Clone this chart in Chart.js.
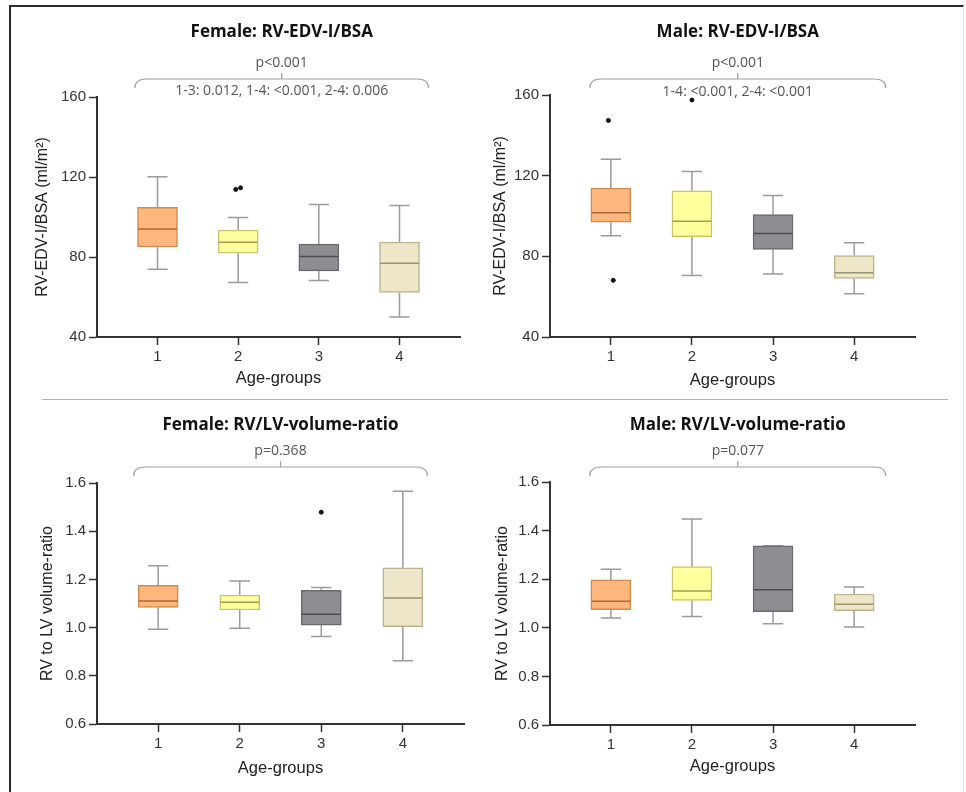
<!DOCTYPE html>
<html>
<head>
<meta charset="utf-8">
<script src="https://cdn.jsdelivr.net/npm/chart.js@4.4.0/dist/chart.umd.min.js"></script>
<style>
  body { margin: 0; background: #fff; width: 966px; height: 792px; position: relative; overflow: hidden; }
  .frame { position: absolute; left: 9px; top: 5px; width: 952px; height: 820px;
           border-top: 2px solid #2b2b2b; border-left: 2px solid #2b2b2b; border-right: 1px solid #e4e4e4; }
  .sep { position: absolute; left: 42px; top: 399px; width: 906px; border-top: 1px solid #b4b4b4; }
  .panel { position: absolute; width: 483px; height: 396px; }
</style>
</head>
<body>
<div class="frame"></div>
<div class="panel" style="left:0;top:0"><canvas id="c1" width="483" height="396"></canvas></div>
<div class="panel" style="left:483px;top:0"><canvas id="c2" width="483" height="396"></canvas></div>
<div class="panel" style="left:0;top:396px"><canvas id="c3" width="483" height="396"></canvas></div>
<div class="panel" style="left:483px;top:396px"><canvas id="c4" width="483" height="396"></canvas></div>
<div class="sep"></div>

<script>
// Categories (age groups)
const groups = [1, 2, 3, 4];
const groupLabels = ["1", "2", "3", "4"];

// Y tick labels
const edvTicks = [40, 80, 120, 160];
const edvTickLabels = ["40", "80", "120", "160"];
const ratioTicks = [0.6, 0.8, 1.0, 1.2, 1.4, 1.6];
const ratioTickLabels = ["0.6", "0.8", "1.0", "1.2", "1.4", "1.6"];

// Female: RV-EDV-I/BSA
const femEdvMin = [73.9, 67.3, 68.3, 50.0];
const femEdvQ1 = [85.0, 81.9, 73.1, 62.3];
const femEdvMed = [94.0, 87.4, 80.2, 76.9];
const femEdvQ3 = [104.8, 93.5, 86.4, 87.4];
const femEdvMax = [120.1, 99.8, 106.3, 105.8];
const femEdvOutGroup = [2, 2];
const femEdvOutValue = [113.8, 114.6];

// Male: RV-EDV-I/BSA
const maleEdvMin = [90.2, 70.5, 71.3, 61.5];
const maleEdvQ1 = [96.9, 89.8, 83.4, 69.1];
const maleEdvMed = [101.6, 97.4, 91.3, 71.9];
const maleEdvQ3 = [113.8, 112.5, 100.7, 80.4];
const maleEdvMax = [128.2, 122.1, 110.2, 86.7];
const maleEdvOutGroup = [1, 1, 2];
const maleEdvOutValue = [147.4, 68.1, 157.5];

// Female: RV/LV-volume-ratio
const femRatioMin = [0.993, 0.997, 0.963, 0.862];
const femRatioQ1 = [1.084, 1.073, 1.010, 1.004];
const femRatioMed = [1.110, 1.105, 1.055, 1.123];
const femRatioQ3 = [1.175, 1.135, 1.155, 1.248];
const femRatioMax = [1.257, 1.193, 1.166, 1.566];
const femRatioOutGroup = [3];
const femRatioOutValue = [1.479];

// Male: RV/LV-volume-ratio
const maleRatioMin = [1.040, 1.046, 1.017, 1.003];
const maleRatioQ1 = [1.075, 1.113, 1.066, 1.071];
const maleRatioMed = [1.109, 1.151, 1.157, 1.097];
const maleRatioQ3 = [1.197, 1.252, 1.337, 1.139];
const maleRatioMax = [1.241, 1.448, 1.338, 1.168];
const maleRatioOutGroup = [];
const maleRatioOutValue = [];

// Styling
const boxFills = ["#fdb67b", "#ffff9e", "#8e8e92", "#eee6c8"];
const boxBorders = ["#cf8a50", "#c9c46c", "#6a6a6e", "#bdb38e"];
const medianColors = ["#a86a3a", "#a39d4c", "#4c4c50", "#9c9272"];
const whiskerColor = "#9b9b9b";

Chart.defaults.font.family = '"Liberation Sans", Arial, sans-serif';
Chart.defaults.color = "#333";
Chart.defaults.animation = false;

const W = 483, H = 396, XH = 55;
const capHalf = 0.125, medHalf = 0.24;

// Title, p-value and bracket above each plot
const notesPlugin = {
  id: "notes",
  afterDraw(chart, args, opts) {
    const ctx = chart.ctx;
    const xs = chart.scales.x;
    const x0 = xs.getPixelForValue(opts.from);
    const x1 = xs.getPixelForValue(opts.to);
    const xm = (x0 + x1) / 2;
    ctx.save();
    ctx.textAlign = "center";
    ctx.textBaseline = "middle";
    ctx.fillStyle = "#111";
    ctx.font = 'bold 17px "Open Sans", sans-serif';
    ctx.fillText(opts.title, xm, opts.titleY);
    ctx.fillStyle = "#555";
    ctx.font = '14px "Open Sans", sans-serif';
    ctx.fillText(opts.p, xm, opts.pY);
    if (opts.pairs) ctx.fillText(opts.pairs, xm, opts.pairsY);

    const by = opts.bracketY, d = 9, r = 12;
    ctx.strokeStyle = "#a0a0a0";
    ctx.lineWidth = 1.2;
    ctx.beginPath();
    ctx.moveTo(x0, by + d);
    ctx.quadraticCurveTo(x0, by, x0 + r, by);
    ctx.lineTo(x1 - r, by);
    ctx.quadraticCurveTo(x1, by, x1, by + d);
    ctx.moveTo(xm, by);
    ctx.lineTo(xm, by - 6);
    ctx.stroke();
    ctx.restore();
  }
};

function makePanel(id, s, cfg) {
  const boxes = groups.map((g, i) => ({ x: g, y: [s.q1[i], s.q3[i]] }));
  const whiskers = [];
  groups.forEach((g, i) => {
    whiskers.push(
      { x: g, y: s.max[i] }, { x: g, y: s.q3[i] }, { x: g, y: null },
      { x: g, y: s.q1[i] }, { x: g, y: s.min[i] }, { x: g, y: null },
      { x: g - capHalf, y: s.max[i] }, { x: g + capHalf, y: s.max[i] }, { x: g, y: null },
      { x: g - capHalf, y: s.min[i] }, { x: g + capHalf, y: s.min[i] }, { x: g, y: null }
    );
  });
  const medianSets = groups.map((g, i) => ({
    type: "scatter",
    data: [{ x: g - medHalf, y: s.med[i] }, { x: g + medHalf, y: s.med[i] }],
    showLine: true,
    borderColor: medianColors[i],
    borderWidth: 1.5,
    pointRadius: 0,
    order: 1
  }));
  const outliers = s.outGroup.map((g, i) => {
    const same = s.outGroup.filter(v => v === g).length;
    const k = s.outGroup.slice(0, i).filter(v => v === g).length;
    return { x: g + (k - (same - 1) / 2) * 0.06, y: s.outValue[i] };
  });

  const padLeft = cfg.yTitleX - 11.6;
  const padBottom = H - cfg.b - XH;

  new Chart(document.getElementById(id), {
    type: "bar",
    data: {
      datasets: [
        {
          type: "scatter",
          data: whiskers,
          showLine: true,
          spanGaps: false,
          borderColor: whiskerColor,
          borderWidth: 1.5,
          pointRadius: 0,
          order: 3
        },
        {
          type: "bar",
          data: boxes,
          backgroundColor: boxFills,
          borderColor: boxBorders,
          borderWidth: 1.5,
          borderSkipped: false,
          barThickness: 40,
          order: 2
        },
        ...medianSets,
        {
          type: "scatter",
          data: outliers,
          pointRadius: 2,
          pointBackgroundColor: "#111",
          pointBorderColor: "#111",
          order: 0
        }
      ]
    },
    options: {
      responsive: false,
      events: [],
      layout: { padding: { left: padLeft, right: W - cfg.r, top: cfg.t, bottom: padBottom } },
      plugins: {
        legend: { display: false },
        tooltip: { enabled: false },
        notes: cfg.notes
      },
      scales: {
        x: {
          type: "linear",
          min: 0.25,
          max: 4.75,
          offset: false,
          afterFit: (scale) => { scale.height = XH; },
          afterBuildTicks: (scale) => { scale.ticks = groups.map(v => ({ value: v })); },
          ticks: {
            padding: 3,
            font: { size: 15 },
            color: "#333",
            callback: (v, i) => groupLabels[i]
          },
          grid: { display: true, offset: false, drawOnChartArea: false, tickLength: 8, tickWidth: 1.5, tickColor: "#333" },
          border: { color: "#333", width: 2 },
          title: {
            display: true,
            text: "Age-groups",
            color: "#222",
            font: { size: 16.5 },
            padding: { top: 0, bottom: cfg.b + XH - 9.9 - cfg.xTitleY }
          }
        },
        y: {
          min: cfg.yTicks[0],
          max: cfg.yTicks[cfg.yTicks.length - 1],
          afterFit: (scale) => { scale.width = cfg.l - padLeft; },
          afterBuildTicks: (scale) => { scale.ticks = cfg.yTicks.map(v => ({ value: v })); },
          ticks: {
            padding: 3,
            font: { size: 15 },
            color: "#333",
            callback: (v, i) => cfg.yTickLabels[i]
          },
          grid: { display: true, drawOnChartArea: false, tickLength: 8, tickWidth: 1.5, tickColor: "#333" },
          border: { color: "#333", width: 2 },
          title: {
            display: true,
            text: cfg.yTitle,
            color: "#222",
            font: { size: 16 },
            padding: { top: 2, bottom: 0 }
          }
        }
      }
    },
    plugins: [notesPlugin]
  });
}

makePanel("c1",
  { min: femEdvMin, q1: femEdvQ1, med: femEdvMed, q3: femEdvQ3, max: femEdvMax,
    outGroup: femEdvOutGroup, outValue: femEdvOutValue },
  { l: 97, r: 460, t: 97, b: 337, yTitleX: 43, xTitleY: 378,
    yTicks: edvTicks, yTickLabels: edvTickLabels, yTitle: "RV-EDV-I/BSA (ml/m²)",
    notes: { title: "Female: RV-EDV-I/BSA", p: "p<0.001", pairs: "1-3: 0.012, 1-4: <0.001, 2-4: 0.006",
             from: 0.72, to: 4.36, titleY: 32, pY: 63, bracketY: 79, pairsY: 91 } });

makePanel("c2",
  { min: maleEdvMin, q1: maleEdvQ1, med: maleEdvMed, q3: maleEdvQ3, max: maleEdvMax,
    outGroup: maleEdvOutGroup, outValue: maleEdvOutValue },
  { l: 67, r: 432, t: 95, b: 337, yTitleX: 18, xTitleY: 380,
    yTicks: edvTicks, yTickLabels: edvTickLabels, yTitle: "RV-EDV-I/BSA (ml/m²)",
    notes: { title: "Male: RV-EDV-I/BSA", p: "p<0.001", pairs: "1-4: <0.001, 2-4: <0.001",
             from: 0.74, to: 4.39, titleY: 32, pY: 63, bracketY: 79, pairsY: 92 } });

makePanel("c3",
  { min: femRatioMin, q1: femRatioQ1, med: femRatioMed, q3: femRatioQ3, max: femRatioMax,
    outGroup: femRatioOutGroup, outValue: femRatioOutValue },
  { l: 97, r: 464, t: 87, b: 328, yTitleX: 48, xTitleY: 372,
    yTicks: ratioTicks, yTickLabels: ratioTickLabels, yTitle: "RV to LV volume-ratio",
    notes: { title: "Female: RV/LV-volume-ratio", p: "p=0.368", pairs: "",
             from: 0.70, to: 4.30, titleY: 29, pY: 55, bracketY: 71, pairsY: 0 } });

makePanel("c4",
  { min: maleRatioMin, q1: maleRatioQ1, med: maleRatioMed, q3: maleRatioQ3, max: maleRatioMax,
    outGroup: maleRatioOutGroup, outValue: maleRatioOutValue },
  { l: 67, r: 432, t: 86, b: 329, yTitleX: 20, xTitleY: 370,
    yTicks: ratioTicks, yTickLabels: ratioTickLabels, yTitle: "RV to LV volume-ratio",
    notes: { title: "Male: RV/LV-volume-ratio", p: "p=0.077", pairs: "",
             from: 0.74, to: 4.39, titleY: 29, pY: 55, bracketY: 71, pairsY: 0 } });
</script>
</body>
</html>
